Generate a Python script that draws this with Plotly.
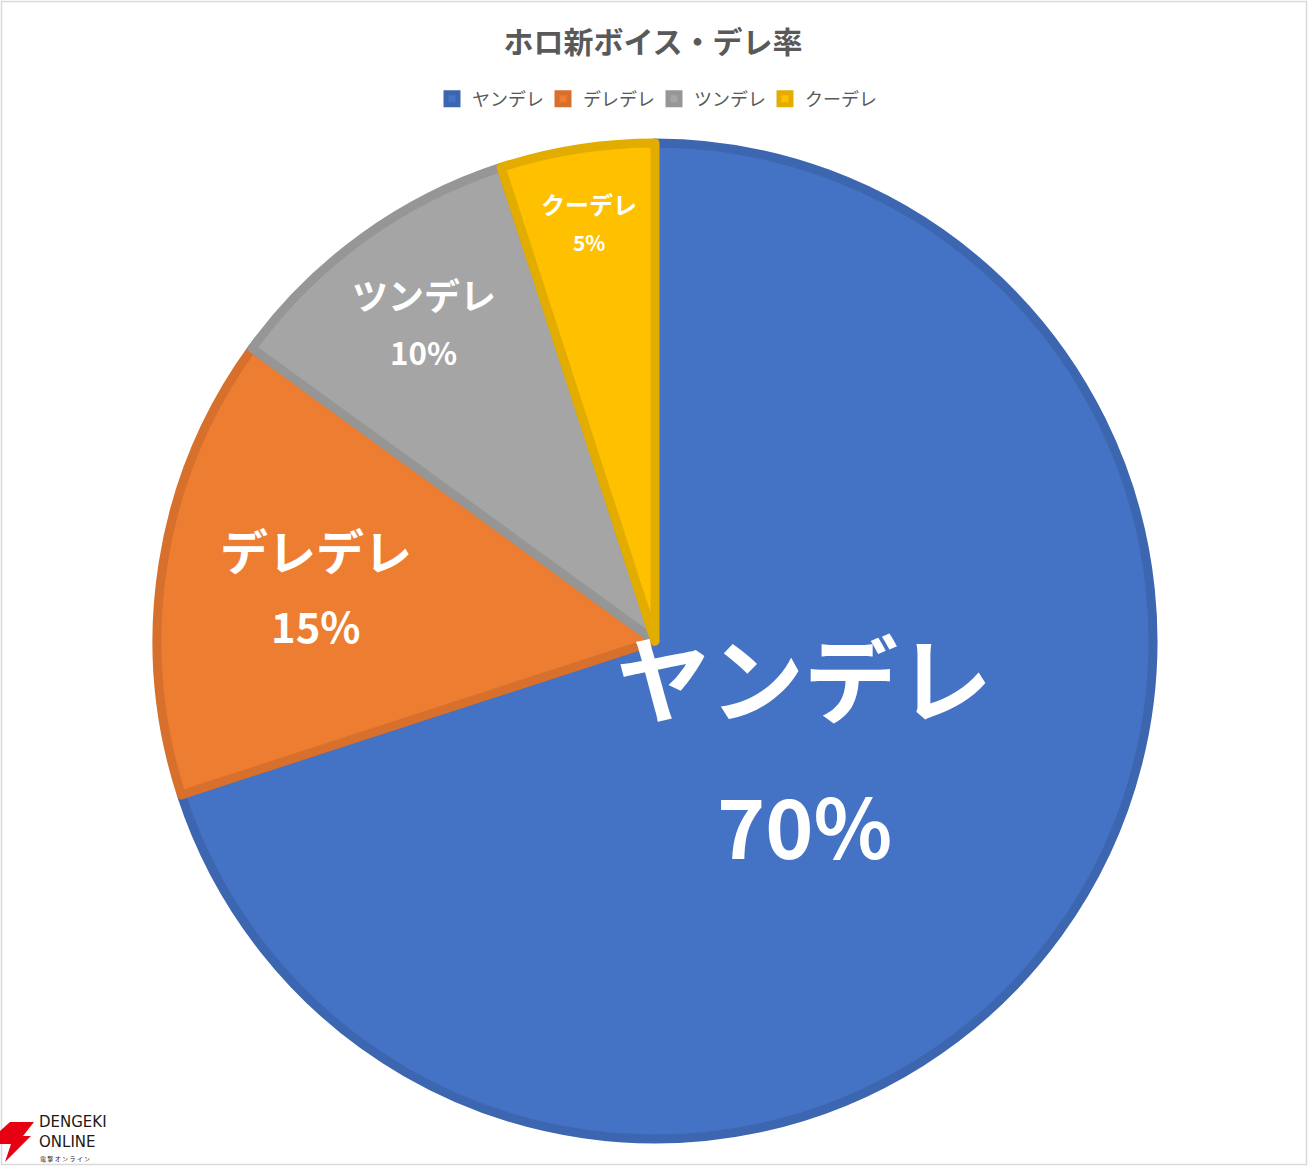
import math
import plotly.graph_objects as go

# data
types = ["ヤンデレ", "デレデレ", "ツンデレ", "クーデレ"]
shares = [70, 15, 10, 5]

# styling
fill_colors = ["#4472C4", "#ED7D31", "#A5A5A5", "#FFC000"]
edge_colors = ["#3D66B0", "#D6702C", "#969696", "#E3AC00"]
label_sizes = [94, 48, 36, 24]
label_radius = [0.37, 0.69, 0.79, 0.85]   # fraction of radius along slice middle
PCT_SCALE = 0.87                          # percent text vs name text

W, H = 1308, 1166
CX, CY, R = 655, 641, 498   # pie centre / radius in px (from top-left)
FONT = "Noto Sans CJK JP"

fig = go.Figure()
fig.add_trace(go.Pie(
	labels=types,
	values=shares,
	sort=False,
	direction="clockwise",
	rotation=0,
	marker=dict(colors=fill_colors, line=dict(color=edge_colors, width=9)),
	textinfo="none",
	hoverinfo="label+percent",
	domain=dict(x=[(CX - R) / W, (CX + R) / W], y=[1 - (CY + R) / H, 1 - (CY - R) / H]),
))

# slice labels, placed along the middle angle of each slice
total = sum(shares)
start = 0
annos = []
for name, v, size, rf in zip(types, shares, label_sizes, label_radius):
	mid = (start + v / 2) / total * 2 * math.pi
	start += v
	px_x = CX + rf * R * math.sin(mid)
	px_y = CY - rf * R * math.cos(mid)
	gap = size * 0.79
	for txt, shift, fs in [(name, gap, size), (f"{v}%", -gap, size * PCT_SCALE)]:
		annos.append(dict(
			x=px_x / W, y=1 - px_y / H, xref="paper", yref="paper",
			text=txt, showarrow=False, yshift=shift,
			xanchor="center", yanchor="middle",
			font=dict(family=FONT, size=fs, color="white", weight="bold"),
		))

# watermark text
annos += [
	dict(x=38 / W, y=1 - 1152 / H, xref="paper", yref="paper", text="DENGEKI<br>ONLINE", showarrow=False,
		 xanchor="left", yanchor="bottom", align="left", borderpad=0,
		 font=dict(family="DejaVu Sans", size=15, color="#231815")),
	dict(x=39 / W, y=1 - 1153 / H, xref="paper", yref="paper", text="電 撃 オ ン ラ イ ン", showarrow=False,
		 xanchor="left", yanchor="top", borderpad=0, font=dict(family=FONT, size=6, color="#231815")),
]

def px_path(pts):
	return "M" + " L".join(f"{x / W:.5f},{1 - y / H:.5f}" for x, y in pts) + " Z"

shapes = [
	# chart frame
	dict(type="rect", xref="paper", yref="paper", x0=1.5 / W, x1=1 - 1.5 / W, y0=1.5 / H, y1=1 - 1.5 / H,
		 line=dict(color="#D9D9D9", width=1.5)),
	# lightning logo
	dict(type="path", xref="paper", yref="paper", fillcolor="#E60012", line=dict(width=0),
		 path=px_path([(10, 1122), (34, 1122), (23, 1136), (31, 1136), (5, 1162), (11, 1144), (0, 1144), (0, 1131)])),
]

fig.update_layout(
	width=W, height=H,
	margin=dict(l=0, r=0, t=0, b=0),
	paper_bgcolor="white",
	plot_bgcolor="white",
	font=dict(family=FONT, color="#595959"),
	title=dict(text="ホロ新ボイス・デレ率", x=653 / W, xanchor="center", y=1 - 42 / H, yanchor="middle",
			   font=dict(family=FONT, size=30, color="#595959", weight="bold")),
	showlegend=True,
	legend=dict(orientation="h", x=0.5, xanchor="center", y=1 - 99 / H, yanchor="middle",
				font=dict(family=FONT, size=18, color="#595959"),
				entrywidth=66, entrywidthmode="pixels", traceorder="normal"),
	annotations=annos,
	shapes=shapes,
)

fig.write_html("out.html", config={"displayModeBar": False},
			   post_script="document.body.style.margin='0px';")
